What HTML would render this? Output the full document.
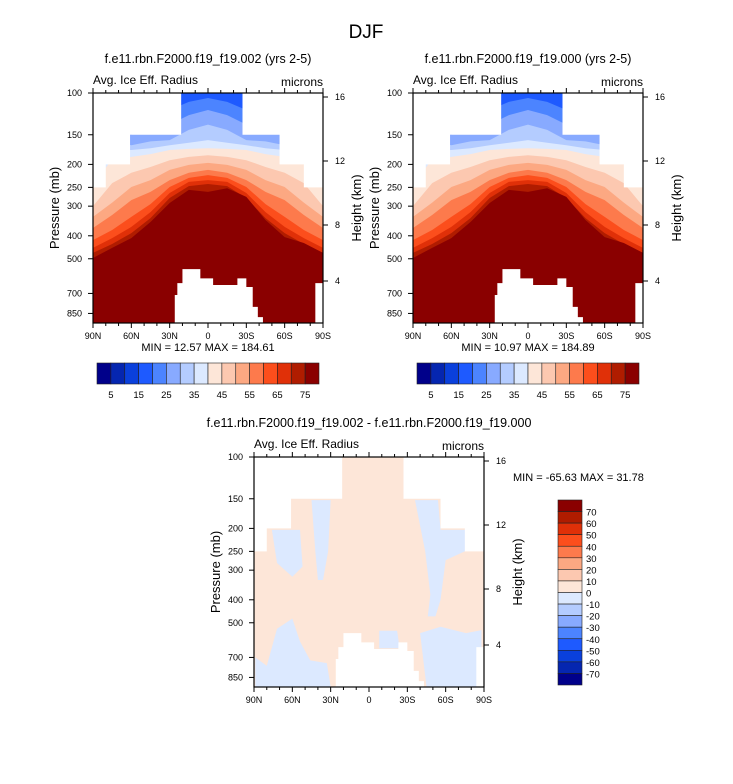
<!DOCTYPE html>
<html><head><meta charset="utf-8">
<style>
html,body{margin:0;padding:0;background:#fff;}
svg{display:block;font-family:"Liberation Sans",Arial,sans-serif;}
</style></head>
<body>
<svg id="fig" width="733" height="784" viewBox="0 0 733 784" xmlns="http://www.w3.org/2000/svg">
<text x="366" y="38" font-size="19" text-anchor="middle">DJF</text>
</svg>
<script>
// ---------- data ----------
const palette = ["#00008a","#0526b0","#0a40dc","#1e5aff","#4c84ff","#88aaff","#b4ccff","#dce9ff","#fde6d8","#fcc8b0","#fca882","#fd7a4c","#fc4e1c","#e03008","#b01c00","#8a0000"];
const topTicks = ["5","15","25","35","45","55","65","75"];
const diffTicks = ["70","60","50","40","30","20","10","0","-10","-20","-30","-40","-50","-60","-70"];
const latTicks = [90,60,30,0,-30,-60,-90];
const latLabels = ["90N","60N","30N","0","30S","60S","90S"];
const pTicks = [100,150,200,250,300,400,500,700,850];
const hTicks = [16,12,8,4];
const hTickY = [4,68,132,188];
const lats = [90,75,60,45,30,15,0,-15,-30,-45,-60,-75,-90];
const levels = [20,25,30,35,40,45,50,55,60,65,70,75];
const c20 = [180,140,130,124,118,109,105,109,118,124,130,140,180];
const c25 = [200,150,150,143,136,124,118,124,136,143,150,150,200];
const c30 = [220,160,166,160,158,143,136,143,158,160,166,160,220];
const c35 = [235,175,174,171,166,162,158,162,166,171,174,175,235];
const c40 = [245,190,186,181,174,172,171,172,174,181,186,190,245];
const c45 = [300,240,217,205,192,186,183,186,192,205,217,240,300];
const c50 = [333,290,249,233,211,201,197,201,211,233,249,290,333];
const c55 = [371,327,283,261,233,217,211,217,233,261,283,327,371];
const c60 = [417,378,333,294,249,228,222,228,249,294,333,378,417];
const c65 = [450,409,367,318,264,237,233,237,264,318,367,409,450];
const c70 = [472,433,390,337,277,247,242,247,277,337,390,433,472];
const c75 = [496,450,409,350,291,256,261,252,274,343,405,429,472];
const contours = [c20,c25,c30,c35,c40,c45,c50,c55,c60,c65,c70,c75];
const topMask = [[90,80,250],[80,61,200],[61,21,150],[21,-27,100],[-27,-56,150],[-56,-75,200],[-75,-90,250]];
const landMask = [[26,24,711],[24,20,633],[20,6,553],[6,-4,605],[-4,-23,645],[-23,-30,605],[-30,-35,658],[-35,-39,798],[-39,-43,881]];
const edgeMask = [[-84,-90,633]];
const diffBlueA = [[45,152],[30,152],[32,250],[36,330],[40,330],[42,250]];
const diffBlueA2 = [[76,203],[54,203],[52,290],[60,320],[72,280]];
const diffBlueB = [[-36,152],[-54,152],[-56,203],[-77,203],[-77,247],[-60,272],[-56,400],[-52,470],[-46,470],[-48,380],[-44,250]];
const diffBlueC = [[89,700],[80,760],[72,530],[60,480],[54,600],[46,720],[33,740],[30,930],[89,930]];
const diffBlueD = [[-40,553],[-56,520],[-76,553],[-88,537],[-88,930],[-45,930]];
const diffBlueE = [[-8,540],[-22,540],[-24,640],[-8,640]];
const diffBlues = [diffBlueA,diffBlueA2,diffBlueB,diffBlueC,diffBlueD,diffBlueE];

// ---------- drawing ----------
const NS="http://www.w3.org/2000/svg";
const svg=document.getElementById('fig');
function mk(tag,attrs,parent){const e=document.createElementNS(NS,tag);for(const k in attrs)e.setAttribute(k,attrs[k]);(parent||svg).appendChild(e);return e;}
const W=230,H=230,PTOP=100,LK=103;

function makeAxes(ox,oy){
  return {x:lat=>ox+(90-lat)/180*W, y:p=>oy+Math.log(p/PTOP)*LK, ox:ox, oy:oy};
}
function stepPath(ax,arr){
  let d='M'+ax.x(arr[0][0])+' '+(ax.oy+H+2);
  for(const m of arr){d+=' L'+ax.x(m[0])+' '+ax.y(m[2])+' L'+ax.x(m[1])+' '+ax.y(m[2]);}
  d+=' L'+ax.x(arr[arr.length-1][1])+' '+(ax.oy+H+2)+' Z';
  return d;
}
function maskPolys(g,ax){
  let d='M'+ax.x(90)+' '+ax.oy;
  for(const m of topMask){d+=' L'+ax.x(m[0])+' '+ax.y(m[2])+' L'+ax.x(m[1])+' '+ax.y(m[2]);}
  d+=' L'+ax.x(-90)+' '+ax.oy+' Z';
  const e=mk('path',{d:d,fill:'#fff'},g);
  
  
  const e2=mk('path',{d:stepPath(ax,landMask),fill:'#fff'},g);
  
  
  const e3=mk('path',{d:stepPath(ax,edgeMask),fill:'#fff'},g);
  
  
}
function frame(ax,title,leftTxt){
  const ox=ax.ox,oy=ax.oy;
  mk('rect',{x:ox,y:oy,width:W,height:H,fill:'none',stroke:'#000','stroke-width':1.2});
  for(let lat=90;lat>=-90;lat-=10){
    const major=latTicks.includes(lat);const L=major?5:3;const X=ax.x(lat);
    mk('line',{x1:X,y1:oy,x2:X,y2:oy-L,stroke:'#000'});
    mk('line',{x1:X,y1:oy+H,x2:X,y2:oy+H+L,stroke:'#000'});
  }
  latTicks.forEach((lat,i)=>{
    const t=mk('text',{x:ax.x(lat),y:oy+H+16,'font-size':9,'text-anchor':'middle'});t.textContent=latLabels[i];
    
    
  });
  pTicks.forEach(p=>{
    const Y=ax.y(p);mk('line',{x1:ox,y1:Y,x2:ox-5,y2:Y,stroke:'#000'});
    const t=mk('text',{x:ox-11,y:Y+3,'font-size':9,'text-anchor':'end'});t.textContent=p;
    
    
  });
  hTicks.forEach((h,i)=>{
    const Y=oy+hTickY[i];mk('line',{x1:ox+W,y1:Y,x2:ox+W+5,y2:Y,stroke:'#000'});
    const t=mk('text',{x:ox+W+12,y:Y+3,'font-size':9});t.textContent=h;
    
    
  });
  let t=mk('text',{x:ox+W/2,y:oy-30,'font-size':12.5,'text-anchor':'middle'});t.textContent=title;
  
  
  t=mk('text',{x:ox,y:oy-9,'font-size':12});t.textContent=leftTxt;
  
  
  t=mk('text',{x:ox+W,y:oy-7,'font-size':12,'text-anchor':'end'});t.textContent='microns';
  
  
  t=mk('text',{x:0,y:0,'font-size':13,'text-anchor':'middle',transform:'translate('+(ox-34)+','+(oy+H/2)+') rotate(-90)'});t.textContent='Pressure (mb)';
  
  
  t=mk('text',{x:0,y:0,'font-size':13,'text-anchor':'middle',transform:'translate('+(ox+W+38)+','+(oy+H/2)+') rotate(-90)'});t.textContent='Height (km)';
  
  
}
function clip(id,ox,oy){const c=mk('clipPath',{id:id});mk('rect',{x:ox,y:oy,width:W,height:H},c);return 'url(#'+id+')';}

function fieldPanel(ox,oy,title,minmax,name){
  const ax=makeAxes(ox,oy);
  const g=mk('g',{'clip-path':clip('cl'+name,ox,oy)});
  
  
  mk('rect',{x:ox,y:oy,width:W,height:H,fill:palette[3]},g);
  contours.forEach((c,k)=>{
    let d='M'+ax.x(90)+' '+(oy+H+2);
    lats.forEach((lat,i)=>{d+=' L'+ax.x(lat)+' '+ax.y(c[i]);});
    d+=' L'+ax.x(-90)+' '+(oy+H+2)+' Z';
    const p=mk('path',{d:d,fill:palette[k+4]},g);
    
    
  });
  maskPolys(g,ax);
  frame(ax,title,'Avg. Ice Eff. Radius');
  let t=mk('text',{x:ox+W/2,y:oy+H+28,'font-size':11,'text-anchor':'middle'});t.textContent=minmax;
  
  
  const cb=mk('g',{});
  
  
  const bx=ox+4,by=oy+H+40,bw=222,bh=21,cw=bw/palette.length;
  palette.forEach((col,i)=>{mk('rect',{x:bx+i*cw,y:by,width:cw,height:bh,fill:col,stroke:'#222','stroke-width':0.6},cb);});
  topTicks.forEach((lab,i)=>{
    const tt=mk('text',{x:bx+(2*i+1)*cw,y:by+bh+14,'font-size':9.5,'text-anchor':'middle'},cb);tt.textContent=lab;
    
    
  });
}
fieldPanel(93,93,'f.e11.rbn.F2000.f19_f19.002 (yrs 2-5)','MIN =  12.57   MAX = 184.61','panel-002');
fieldPanel(413,93,'f.e11.rbn.F2000.f19_f19.000 (yrs 2-5)','MIN =  10.97   MAX = 184.89','panel-000');

(function(){
  const ox=254,oy=457;const ax=makeAxes(ox,oy);
  const g=mk('g',{'clip-path':clip('cldiff',ox,oy)});
  
  
  mk('rect',{x:ox,y:oy,width:W,height:H,fill:palette[8]},g);
  diffBlues.forEach(poly=>{
    const d='M'+poly.map(pt=>ax.x(pt[0])+' '+ax.y(pt[1])).join(' L')+' Z';
    const p=mk('path',{d:d,fill:palette[7]},g);
    
    
  });
  maskPolys(g,ax);
  frame(ax,'f.e11.rbn.F2000.f19_f19.002 - f.e11.rbn.F2000.f19_f19.000','Avg. Ice Eff. Radius');
  let t=mk('text',{x:513,y:481,'font-size':11});t.textContent='MIN = -65.63  MAX =  31.78';
  
  
  const cb=mk('g',{});
  
  
  const bx=558,by=500,bw=24,bh=185,ch=bh/palette.length;
  palette.slice().reverse().forEach((col,i)=>{mk('rect',{x:bx,y:by+i*ch,width:bw,height:ch,fill:col,stroke:'#222','stroke-width':0.6},cb);});
  diffTicks.forEach((lab,i)=>{
    const tt=mk('text',{x:bx+28,y:by+(i+1)*ch+4,'font-size':9.5},cb);tt.textContent=lab;
    
    
  });
})();
</script>
</body></html>
